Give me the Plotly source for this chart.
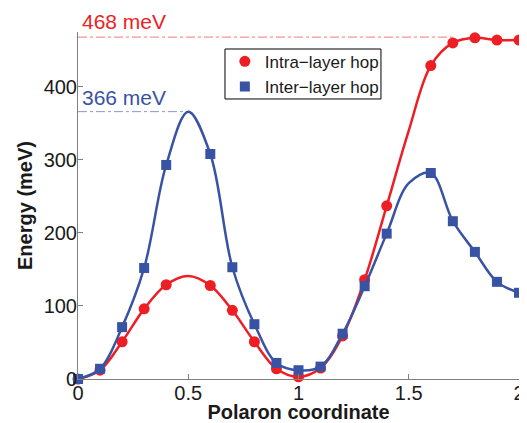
import plotly.graph_objects as go

# ---- data ----
coord = [0.0, 0.1, 0.2, 0.3, 0.4, 0.5, 0.6, 0.7, 0.8, 0.9, 1.0,
         1.1, 1.2, 1.3, 1.4, 1.5, 1.6, 1.7, 1.8, 1.9, 2.0]
intra = [0, 12, 51, 96, 129, 141, 128, 94, 51, 14, 3,
         15, 59, 136, 237, 340, 429, 460, 467, 464, 464]
inter = [0, 14, 71, 152, 293, 366, 308, 153, 75, 22, 12,
         17, 62, 127, 199, 268, 282, 216, 174, 133, 118]
# coordinates on the curves that carry no marker
unmarked = [0.5, 1.5]

intra_barrier = 468
inter_barrier = 366
intra_barrier_end = 1.7
inter_barrier_end = 0.5

x_ticks = [0, 0.5, 1, 1.5, 2]
x_tick_labels = ["0", "0.5", "1", "1.5", "2"]
y_ticks = [0, 100, 200, 300, 400]

RED = "rgb(237,30,36)"
BLUE = "rgb(57,83,164)"
FONT = "Liberation Sans, Arial, Helvetica, sans-serif"

mx = [c for c in coord if c not in unmarked]
intra_m = [v for c, v in zip(coord, intra) if c not in unmarked]
inter_m = [v for c, v in zip(coord, inter) if c not in unmarked]

fig = go.Figure()

# barrier reference lines
fig.add_trace(go.Scatter(x=[0, intra_barrier_end], y=[intra_barrier, intra_barrier],
                         mode="lines", line=dict(color="rgba(237,30,36,0.6)", width=1, dash="dashdot"),
                         showlegend=False, hoverinfo="skip", cliponaxis=False))
fig.add_trace(go.Scatter(x=[0, inter_barrier_end], y=[inter_barrier, inter_barrier],
                         mode="lines", line=dict(color="rgba(57,83,164,0.6)", width=1, dash="dashdot"),
                         showlegend=False, hoverinfo="skip", cliponaxis=False))

# intra-layer
fig.add_trace(go.Scatter(x=coord, y=intra, mode="lines",
                         line=dict(color=RED, width=2.5, shape="spline", smoothing=1.0),
                         showlegend=False, cliponaxis=False))
fig.add_trace(go.Scatter(x=mx, y=intra_m, mode="markers", name="Intra−layer hop",
                         marker=dict(color=RED, size=11, symbol="circle"), cliponaxis=False))
# inter-layer
fig.add_trace(go.Scatter(x=coord, y=inter, mode="lines",
                         line=dict(color=BLUE, width=2.5, shape="spline", smoothing=1.0),
                         showlegend=False, cliponaxis=False))
fig.add_trace(go.Scatter(x=mx, y=inter_m, mode="markers", name="Inter−layer hop",
                         marker=dict(color=BLUE, size=10, symbol="square"), cliponaxis=False))

fig.add_annotation(x=0, y=intra_barrier, xref="x", yref="y", text=f"{intra_barrier} meV",
                   showarrow=False, xanchor="left", yanchor="bottom", xshift=2, yshift=2,
                   font=dict(family=FONT, size=21, color=RED))
fig.add_annotation(x=0, y=inter_barrier, xref="x", yref="y", text=f"{inter_barrier} meV",
                   showarrow=False, xanchor="left", yanchor="bottom", xshift=2, yshift=1,
                   font=dict(family=FONT, size=21, color=BLUE))

# legend frame (drawn as a shape so it hugs the entries like the reference)
fig.add_shape(type="rect", xref="paper", yref="paper",
              x0=0.3333, x1=0.687, y0=0.807, y1=0.951,
              line=dict(color="black", width=1), fillcolor="rgba(0,0,0,0)", layer="above")

# the page body has an 8px margin, so the figure is 8px smaller and margins shifted
fig.update_layout(
    width=519, height=415,
    margin=dict(l=70, r=8, t=24, b=44, autoexpand=False),
    paper_bgcolor="white", plot_bgcolor="white",
    font=dict(family=FONT, size=20, color="#1a1a1a"),
    legend=dict(x=0.333, y=0.966, xanchor="left", yanchor="top",
                bgcolor="rgba(255,255,255,0)", borderwidth=0,
                font=dict(family=FONT, size=17, color="#1a1a1a"),
                itemwidth=30, tracegroupgap=0),
    xaxis=dict(range=[0, 2], tickvals=x_ticks, ticktext=x_tick_labels,
               showgrid=False, zeroline=False, showline=True, linecolor="#808080", linewidth=1,
               ticks="inside", ticklen=5, tickcolor="#808080", automargin=False,
               ticklabelstandoff=-4,
               tickfont=dict(family=FONT, size=20, color="#1a1a1a"),
               title=dict(text="Polaron coordinate", standoff=12,
                          font=dict(family=FONT, size=20, weight="bold", color="#1a1a1a"))),
    yaxis=dict(range=[0, 475], tickvals=y_ticks,
               showgrid=False, zeroline=False, showline=True, linecolor="#808080", linewidth=1,
               ticks="inside", ticklen=5, tickcolor="#808080", automargin=False,
               ticklabelstandoff=-4,
               tickfont=dict(family=FONT, size=20, color="#1a1a1a"),
               title=dict(text="Energy (meV)", standoff=5,
                          font=dict(family=FONT, size=20, weight="bold", color="#1a1a1a"))),
)

fig.write_html("out.html")
